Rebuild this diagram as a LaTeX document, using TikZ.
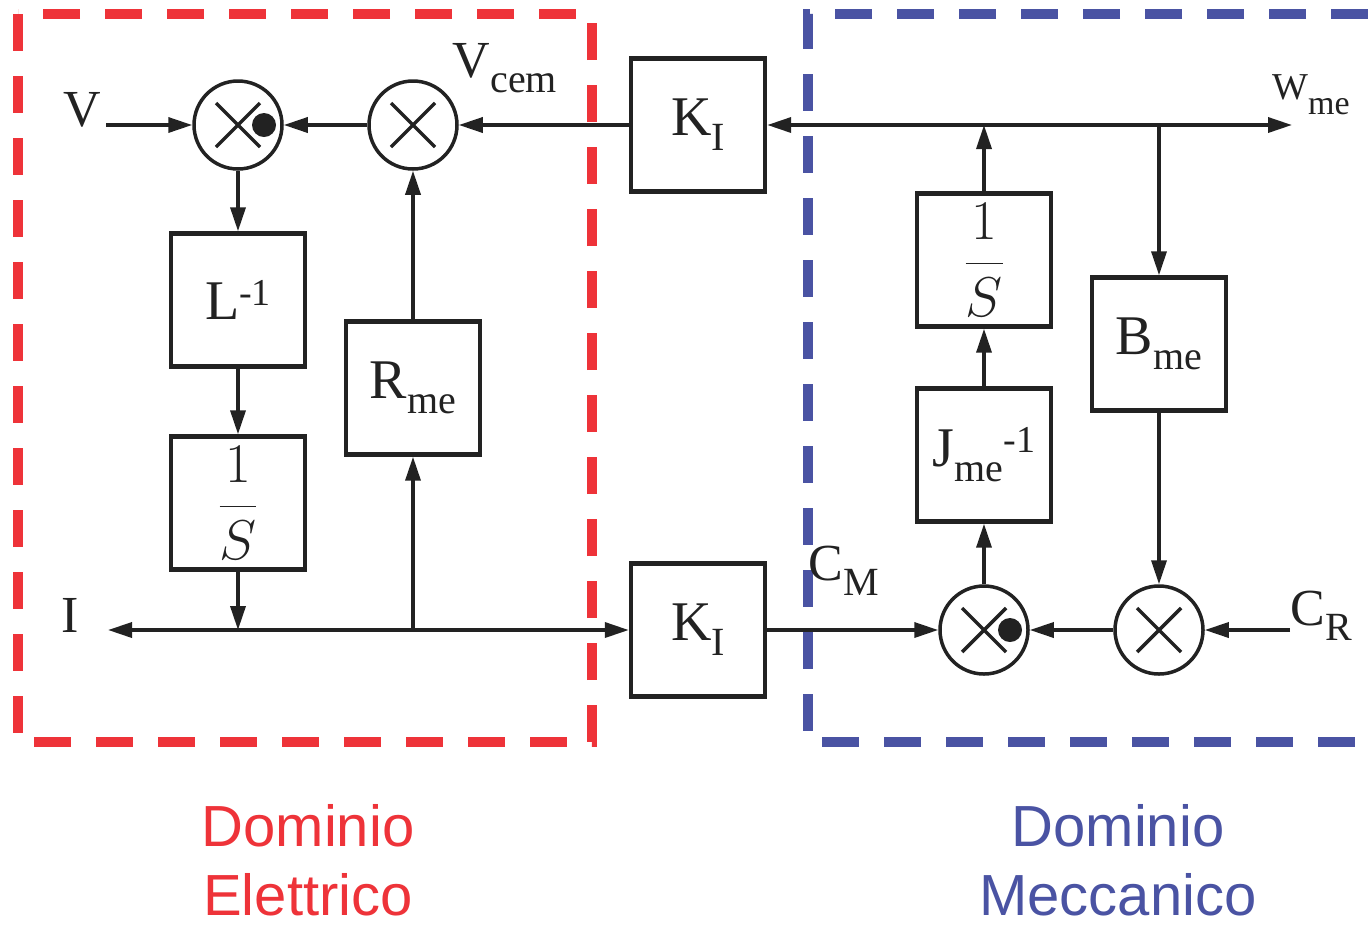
\RequirePackage{fix-cm}
\documentclass[tikz,border=0pt]{standalone}
\usepackage{fontspec}
\setmainfont{Liberation Serif}
\newfontfamily\arial{Liberation Sans}
\usetikzlibrary{arrows.meta}
\definecolor{tinta}{HTML}{222222}
\definecolor{rosso}{HTML}{EE3339}
\definecolor{blu}{HTML}{4A53A3}
\newcommand{\pedice}[2][20]{\raisebox{-7.5pt}{\fontsize{#1}{#1}\selectfont #2}}
\newcommand{\apice}[1]{\raisebox{7pt}{\fontsize{19}{19}\selectfont #1}}
\newcommand{\integra}{$\displaystyle\frac{1}{S}$}

\begin{document}
\begin{tikzpicture}[x=0.5pt, y=-0.5pt, line width=1.75pt, color=tinta,
    blocco/.style={draw, line width=2.2pt, minimum width=67pt, minimum height=66.5pt,
      inner sep=0pt, font=\fontsize{28}{30}\selectfont},
    nodo/.style={draw, circle, minimum size=44pt, inner sep=0pt},
    etichetta/.style={font=\fontsize{26}{28}\selectfont, inner sep=0pt},
    freccia/.style={-{Triangle[length=12pt,width=7.5pt]}},
    doppia/.style={{Triangle[length=12pt,width=7.5pt]}-{Triangle[length=12pt,width=7.5pt]}},
    cornice/.style={line width=5pt, dash pattern=on 18.5pt off 12.5pt},
    dominio/.style={font=\arial\fontsize{29}{34.5}\selectfont, align=center, inner sep=0pt}]
  \useasboundingbox (0,0) rectangle (1368,928);

  % nodi sommatori
  \node[nodo] (s1) at (238,125) {};
  \node[nodo] (s2) at (413,125) {};
  \node[nodo] (s3) at (984,630) {};
  \node[nodo] (s4) at (1159,630) {};
  \foreach \n in {s1,s2,s3,s4}
    \draw ([shift={(-22,-22)}]\n.center) -- ([shift={(22,22)}]\n.center)
          ([shift={(-22,22)}]\n.center) -- ([shift={(22,-22)}]\n.center);
  \foreach \n in {s1,s3}
    \fill ([xshift=13pt]\n.center) circle (6pt);

  % blocchi
  \node[blocco] (linv) at (238,300) {L\apice{-1}};
  \node[blocco] (int1) at (238,503) {\integra};
  \node[blocco] (rme) at (413,388) {R\pedice{me}};
  \node[blocco] (ki1) at (698,125) {K\pedice{I}};
  \node[blocco] (ki2) at (698,630) {K\pedice{I}};
  \node[blocco] (int2) at (984,260) {\integra};
  \node[blocco] (jme) at (984,455) {J\pedice{me}\apice{-1}};
  \node[blocco] (bme) at (1159,344) {B\pedice{me}};

  \coordinate (vin) at (106,125);
  \coordinate (iout) at (108,630);
  \coordinate (wme) at (1292,125);
  \coordinate (cr) at (1290,630);

  % dominio elettrico
  \draw[freccia] (vin) -- (s1);
  \draw[freccia] (s2) -- (s1);
  \draw[freccia] (ki1) -- (s2);
  \draw[freccia] (s1) -- (linv);
  \draw[freccia] (linv) -- (int1);
  \draw[freccia] (int1) -- (int1 |- iout);
  \draw[doppia] (iout) -- (ki2);
  \draw[freccia] (rme |- iout) -- (rme);
  \draw[freccia] (rme) -- (s2);

  % dominio meccanico
  \draw[doppia] (ki1) -- (wme);
  \draw[freccia] (int2) -- (int2 |- wme);
  \draw[freccia] (bme |- wme) -- (bme);
  \draw[freccia] (jme) -- (int2);
  \draw[freccia] (s3) -- (jme);
  \draw[freccia] (bme) -- (s4);
  \draw[freccia] (s4) -- (s3);
  \draw[freccia] (cr) -- (s4);
  \draw[freccia] (ki2) -- (s3);

  \draw[rosso, cornice] (18,14) rectangle (592,742);
  \draw[blu, cornice] (1368,14) -- (808,14) -- (808,742) -- (1368,742);

  \node[etichetta] (lv) at (82,110) {V};
  \node[etichetta] (lvcem) at (505,68) {V\pedice{cem}};
  \node[etichetta] (li) at (70,615) {I};
  \node[etichetta, font=\fontsize{19}{20}\selectfont] (lwme) at (1311,95) {W\pedice[17]{me}};
  \node[etichetta] (lcm) at (844,571) {C\pedice{M}};
  \node[etichetta] (lcr) at (1321,616) {C\pedice{R}};

  \node[dominio, rosso] (delettrico) at (308,860) {Dominio\\Elettrico};
  \node[dominio, blu] (dmeccanico) at (1118,860) {Dominio\\Meccanico};
\end{tikzpicture}
\end{document}
